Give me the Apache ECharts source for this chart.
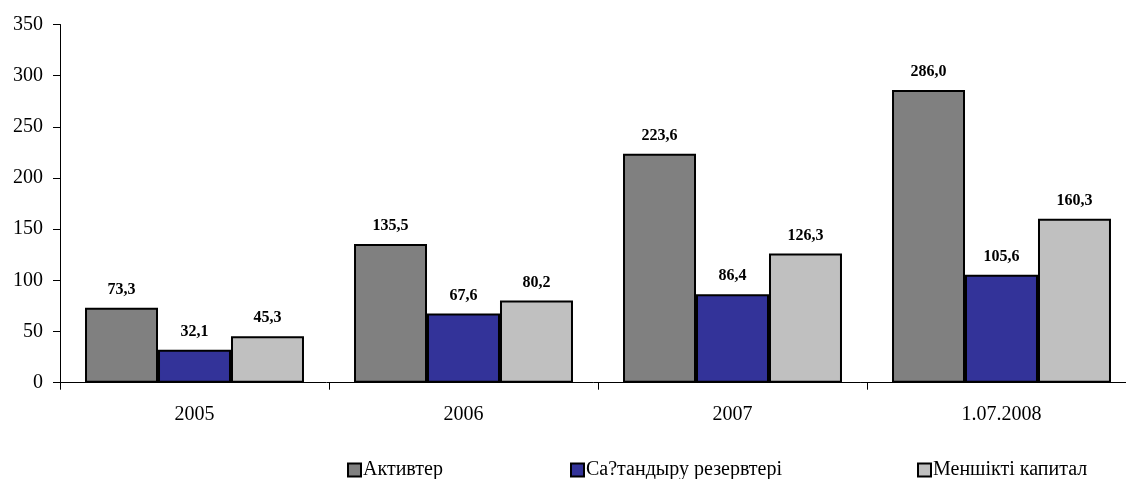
<!DOCTYPE html>
<html>
<head>
<meta charset="utf-8">
<script src="https://cdn.jsdelivr.net/npm/echarts@6/dist/echarts.min.js"></script>
<style>html,body{margin:0;padding:0;background:#fff;}#c{width:1126px;height:479px;}</style>
</head>
<body>
<div id="c"></div>
<script>
var categories = ['2005', '2006', '2007', '1.07.2008'];
var seriesNames = ['Активтер', 'Са?тандыру резервтері', 'Меншікті капитал'];
var assets = [73.3, 135.5, 223.6, 286.0];
var reserves = [32.1, 67.6, 86.4, 105.6];
var equity = [45.3, 80.2, 126.3, 160.3];
var colors = ['#808080', '#333399', '#C0C0C0'];
var font = '"Liberation Serif", serif';

var chart = echarts.init(document.getElementById('c'));
function mk(name, data, color) {
  return {
    name: name, type: 'bar', data: data,
    barGap: '0%', barCategoryGap: '18.6%',
    itemStyle: { color: color, borderColor: '#000', borderWidth: 2 },
    label: {
      show: true, position: 'top', distance: 10,
      fontFamily: font, fontWeight: 'bold', fontSize: 16, color: '#000',
      formatter: function (p) { return p.value.toFixed(1).replace('.', ','); }
    },
    emphasis: { disabled: true }
  };
}
var legendPos = [342, 565, 912];
chart.setOption({
  animation: false,
  textStyle: { fontFamily: font },
  grid: { left: 60, top: 24.5, bottom: 96.3, width: 1076, containLabel: false, outerBoundsMode: 'none' },
  legend: seriesNames.map(function (n, i) {
    return {
      data: [n], left: legendPos[i], top: 455, itemWidth: 13, itemHeight: 13, itemGap: 4,
      icon: 'rect', selectedMode: false,
      itemStyle: { borderColor: '#000', borderWidth: 2 },
      textStyle: { fontFamily: font, fontSize: 20, color: '#000', padding: [0, 0, 0, -3] }
    };
  }),
  xAxis: {
    type: 'category', data: categories,
    axisLine: { lineStyle: { color: '#000', width: 1 } },
    axisTick: { show: true, length: 7, lineStyle: { color: '#000' } },
    axisLabel: { fontFamily: font, fontSize: 20, color: '#000', margin: 22 }
  },
  yAxis: {
    type: 'value', min: 0, max: 350, interval: 50,
    axisLine: { show: true, lineStyle: { color: '#000', width: 1 } },
    axisTick: { show: true, length: 7, lineStyle: { color: '#000' } },
    splitLine: { show: false },
    axisLabel: { fontFamily: font, fontSize: 20, color: '#000', margin: 17 }
  },
  series: [mk(seriesNames[0], assets, colors[0]), mk(seriesNames[1], reserves, colors[1]), mk(seriesNames[2], equity, colors[2])]
});
</script>
</body>
</html>
